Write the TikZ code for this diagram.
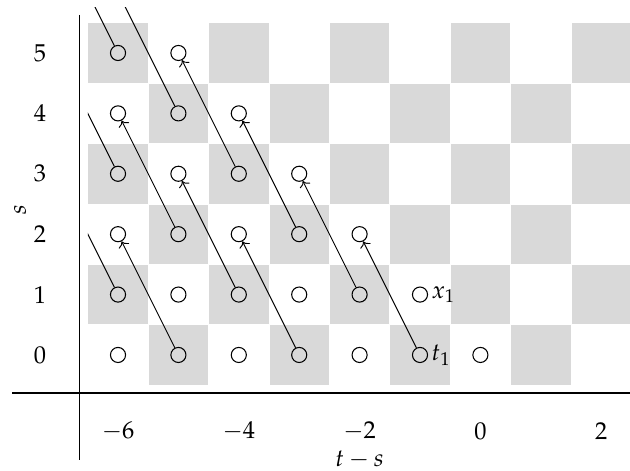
\documentclass[tikz,border=0pt]{standalone}
\usepackage{mathpazo}
\usetikzlibrary{positioning,arrows.meta}
\definecolor{cellgray}{RGB}{217,217,217}

\begin{document}
\begin{tikzpicture}[
  every node/.style={font=\fontsize{11.5}{13}\selectfont},
  cell/.style={fill=cellgray,draw=white,line width=0.3pt},
  site/.style={circle,draw,line width=0.5pt,minimum size=0.25cm,inner sep=0pt},
  hop/.style={->,line width=0.45pt},
  tag/.style={inner sep=1.5pt},
  scale label/.style={inner sep=0pt}]
\useasboundingbox (-7.954,-1.921) rectangle (2.477,5.877);

% checkerboard
\foreach \i in {0,...,8}
  \foreach \r in {0,...,5}{
    \pgfmathtruncatemacro\odd{mod(\i+\r,2)}
    \ifnum\odd=1 \filldraw[cell] (\i-6.5,\r-0.5) rectangle ++(1,1); \fi
  }

% sites
\foreach \i in {0,...,8}
  \foreach \r in {0,...,5}{
    \pgfmathtruncatemacro\sum{\i+\r}
    \ifnum\sum<7 \node[site] (n\i-\r) at (\i-6,\r) {}; \fi
  }
\coordinate (n-1-3) at (-7,3);
\coordinate (n-1-5) at (-7,5);
\coordinate (n-1-7) at (-7,7);
\coordinate (n0-6) at (-6,6);

% hops
\begin{scope}
  \clip (-6.5,-0.5) rectangle (2.5,5.76);
  \draw[hop] (n5-0) -- (n4-2);
  \draw[hop] (n3-0) -- (n2-2);
  \draw[hop] (n1-0) -- (n0-2);
  \draw[hop] (n4-1) -- (n3-3);
  \draw[hop] (n2-1) -- (n1-3);
  \draw[hop] (n0-1) -- (n-1-3);
  \draw[hop] (n3-2) -- (n2-4);
  \draw[hop] (n1-2) -- (n0-4);
  \draw[hop] (n2-3) -- (n1-5);
  \draw[hop] (n0-3) -- (n-1-5);
  \draw[hop] (n1-4) -- (n0-6);
  \draw[hop] (n0-5) -- (n-1-7);
\end{scope}

\node[tag,right=0pt of n5-1] (x1) {$x_1$};
\node[tag,right=0pt of n5-0] (t1) {$t_1$};

% axes
\draw[line width=0.5pt] (-7.755,-0.63) -- (2.477,-0.63);
\draw[line width=0.5pt] (-6.63,5.63) -- (-6.63,-1.74);

\foreach \r in {0,...,5}
  \node (row\r) at (-7.29,\r) {$\r$};
\foreach \c in {-6,-4,-2,0,2}
  \node[scale label] (col\c) at (\c,-1.26) {$\c$};
\node[scale label] (slab) at (-7.62,2.4) [rotate=90] {$s$};
\node[scale label] (tslab) at (-2,-1.735) {$t-s$};
\end{tikzpicture}
\end{document}
